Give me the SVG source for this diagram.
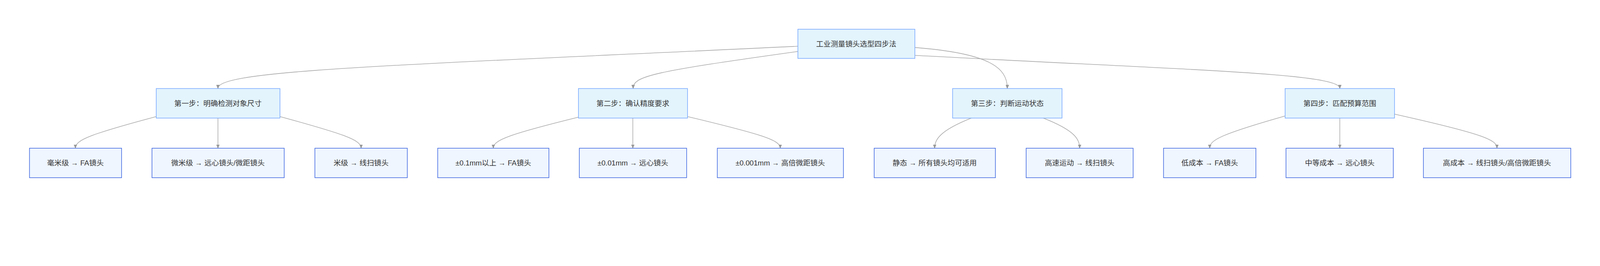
<svg xmlns="http://www.w3.org/2000/svg" width="5264" height="680" viewBox="0 0 5264 680" style="width:100%;max-width:5264px;height:auto">
<style>
text{font-family:"Liberation Sans","Noto Sans CJK SC",sans-serif;font-size:24px;fill:#333;text-anchor:middle;dominant-baseline:central}
.step{fill:#e3f4fd;stroke:#78a9ff;stroke-width:2}
.leaf{fill:#eff6ff;stroke:#4169e1;stroke-width:2}
.e{fill:none;stroke:#aaa;stroke-width:2;marker-end:url(#a)}
</style>
<defs><marker id="a" markerWidth="12" markerHeight="10" refX="11" refY="5" orient="auto" markerUnits="userSpaceOnUse"><path d="M0,0 L12,5 L0,10 z" fill="#999" stroke="#888"/></marker></defs>
<rect width="5264" height="680" fill="#fff"/>
<g id="edges">
<path class="e" d="M2625,152 C1300,215 717,230 717,290"/>
<path class="e" d="M2625,169 C2150,235 2083,250 2083,290"/>
<path class="e" d="M3010,156 C3250,175 3314,220 3314,290"/>
<path class="e" d="M3010,182 C3900,230 4408,240 4408,290"/>
<path class="e" d="M514,383 C300,440 248,460 248,486"/>
<path class="e" d="M717,388 L717,486"/>
<path class="e" d="M921,383 C1130,440 1188,460 1188,486"/>
<path class="e" d="M1903,385 C1680,440 1623,460 1623,486"/>
<path class="e" d="M2082,388 L2082,486"/>
<path class="e" d="M2262,383 C2500,440 2567,460 2567,486"/>
<path class="e" d="M3196,388 C3090,430 3075,460 3075,486"/>
<path class="e" d="M3432,388 C3540,430 3552,460 3552,486"/>
<path class="e" d="M4228,381 C4020,440 3980,460 3980,486"/>
<path class="e" d="M4408,388 L4408,486"/>
<path class="e" d="M4588,375 C4880,440 4925,460 4925,486"/>
</g>
<g id="root"><rect class="step" x="2625" y="96" width="385" height="96"/><text x="2817" y="144">工业测量镜头选型四步法</text></g>
<g id="s1"><rect class="step" x="514" y="291" width="407" height="97"/><text x="717" y="340">第一步：明确检测对象尺寸</text></g>
<g id="s2"><rect class="step" x="1903" y="291" width="359" height="97"/><text x="2082" y="340">第二步：确认精度要求</text></g>
<g id="s3"><rect class="step" x="3134" y="291" width="360" height="97"/><text x="3314" y="340">第三步：判断运动状态</text></g>
<g id="s4"><rect class="step" x="4228" y="291" width="360" height="97"/><text x="4408" y="340">第四步：匹配预算范围</text></g>
<g id="l1"><rect class="leaf" x="97" y="487" width="303" height="97"/><text x="248" y="536">毫米级 → FA镜头</text></g>
<g id="l2"><rect class="leaf" x="500" y="487" width="435" height="97"/><text x="717" y="536">微米级 → 远心镜头/微距镜头</text></g>
<g id="l3"><rect class="leaf" x="1036" y="487" width="304" height="97"/><text x="1188" y="536">米级 → 线扫镜头</text></g>
<g id="l4"><rect class="leaf" x="1440" y="487" width="366" height="97"/><text x="1623" y="536">±0.1mm以上 → FA镜头</text></g>
<g id="l5"><rect class="leaf" x="1906" y="487" width="353" height="97"/><text x="2082" y="536">±0.01mm → 远心镜头</text></g>
<g id="l6"><rect class="leaf" x="2360" y="487" width="415" height="97"/><text x="2567" y="536">±0.001mm → 高倍微距镜头</text></g>
<g id="l7"><rect class="leaf" x="2876" y="487" width="399" height="97"/><text x="3075" y="536">静态 → 所有镜头均可适用</text></g>
<g id="l8"><rect class="leaf" x="3376" y="487" width="352" height="97"/><text x="3552" y="536">高速运动 → 线扫镜头</text></g>
<g id="l9"><rect class="leaf" x="3828" y="487" width="304" height="97"/><text x="3980" y="536">低成本 → FA镜头</text></g>
<g id="l10"><rect class="leaf" x="4231" y="487" width="353" height="97"/><text x="4408" y="536">中等成本 → 远心镜头</text></g>
<g id="l11"><rect class="leaf" x="4683" y="487" width="485" height="97"/><text x="4925" y="536">高成本 → 线扫镜头/高倍微距镜头</text></g>
</svg>
